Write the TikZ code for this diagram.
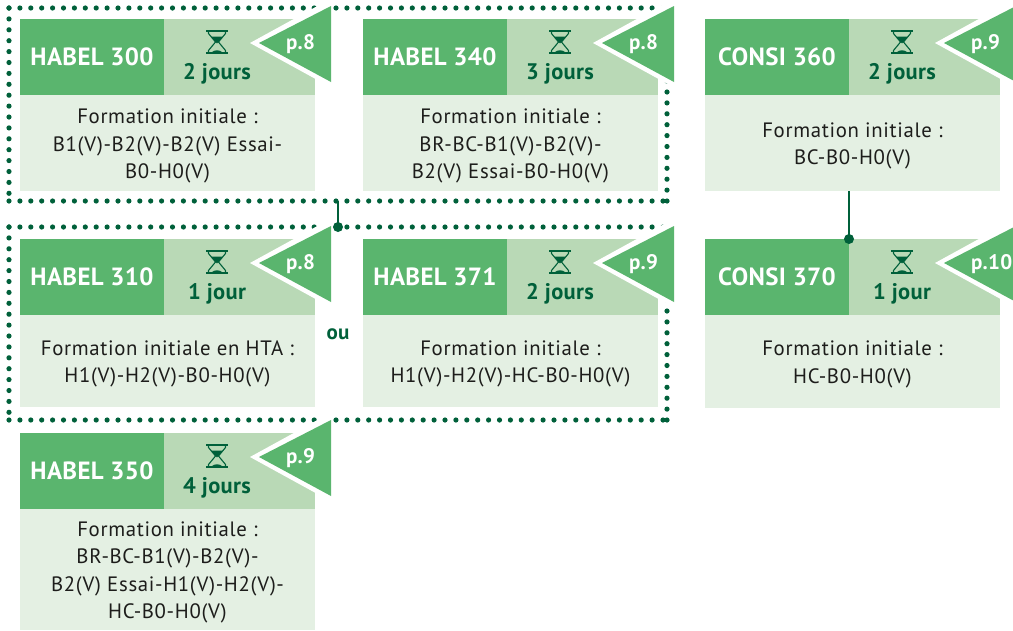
\documentclass[tikz,border=0pt]{standalone}
\usepackage{fontspec}
\setmainfont{PT Sans}
\newfontfamily\bodyfont{PT Sans}[LetterSpace=3.2]
\newfontfamily\headfont{PT Sans}[LetterSpace=1.5]
\definecolor{gmid}{HTML}{5AB56E}
\definecolor{glight}{HTML}{B9D9B6}
\definecolor{gpale}{HTML}{E4F0E3}
\definecolor{gdark}{HTML}{00603A}
\definecolor{ink}{HTML}{1D1D1B}
\tikzset{
  titlebox/.style={anchor=north west,fill=gmid,text=white,font=\fontsize{24.9}{24}\headfont\bfseries,minimum width=144pt,minimum height=76pt,inner sep=0pt,outer sep=0pt},
  timebox/.style={anchor=north west,fill=glight,minimum width=151pt,minimum height=76pt,inner sep=0pt,outer sep=0pt},
  bodybox/.style={anchor=north west,fill=gpale,minimum width=295pt,inner sep=0pt,outer sep=0pt},
  bodytext/.style={text=ink,font=\fontsize{20.8}{27.4}\bodyfont,align=center,inner sep=0pt},
  timelabel/.style={text=gdark,font=\fontsize{22.5}{22}\headfont\bfseries,inner sep=0pt},
  pagelabel/.style={anchor=west,text=white,font=\fontsize{21}{20}\headfont\bfseries,inner sep=0pt},
  dots/.style={draw=gdark,line width=5.2pt,line cap=round,dash pattern=on 0pt off 10.9pt},
  link/.style={draw=gdark,line width=2.5pt},
  linkdot/.style={fill=gdark},
}
% x, y, name, title, duration, page, body height, body text
\newcommand{\card}[8]{%
  \node[titlebox] (#3t) at (#1,#2) {#4};
  \node[timebox] (#3d) at (#1+144,#2) {};
  \node[bodybox,minimum height=#7pt] (#3b) at (#1,#2+76) {};
  \node[bodytext] (#3x) at ([yshift=-3pt]#3b.center) {#8};
  \fill[white] (#1+230,#2+24) -- (#1+312,#2-21) -- (#1+312,#2+69) -- cycle;
  \fill[gmid] (#1+239,#2+24) -- (#1+311,#2-13) -- (#1+311,#2+63) -- cycle;
  \node[pagelabel] (#3p) at (#1+266,#2+25) {#6};
  \node[timelabel] (#3j) at (#1+197,#2+55) {#5};
  \begin{scope}[shift={(#1+197,#2+23)}]
    \fill[gdark] (-11,-12) rectangle (11,-10.4);
    \fill[gdark] (-11,10.4) rectangle (11,12);
    \draw[gdark,line width=1.1pt,line join=round] (-8.5,-10.5) -- (-8.5,-8.5) -- (-1.5,0) -- (-8.5,8.5) -- (-8.5,10.5) (8.5,-10.5) -- (8.5,-8.5) -- (1.5,0) -- (8.5,8.5) -- (8.5,10.5);
    \fill[gdark] (-6,-5.5) -- (6,-5.5) -- (0,1.5) -- cycle;
    \fill[gdark] (-5.5,10.5) .. controls (-3,7.5) and (3,7.5) .. (5.5,10.5) -- cycle;
  \end{scope}
}
\begin{document}
\begin{tikzpicture}[x=1pt,y=-1pt]
\useasboundingbox (0,0) rectangle (1013,630);
\coordinate (g1tl) at (9,8);
\coordinate (g1tr) at (667,8);
\coordinate (g1bl) at (9,201);
\coordinate (g1br) at (667,201);
\coordinate (g2tl) at (9,227);
\coordinate (g2tr) at (667,227);
\coordinate (g2bl) at (9,420);
\coordinate (g2br) at (667,420);
\draw[dots] (g1tl) -- (g1tr);
\draw[dots] (g1tl) -- (g1bl);
\draw[dots] (g1bl) -- (g1br);
\draw[dots] (g1br) -- (g1tr);
\draw[dots] (g2tl) -- (g2tr);
\draw[dots] (g2tl) -- (g2bl);
\draw[dots] (g2bl) -- (g2br);
\draw[dots] (g2br) -- (g2tr);
\card{20}{19}{a}{HABEL 300}{2 jours}{p.8}{96}{Formation initiale :\\B1(V)-B2(V)-B2(V) Essai-\\B0-H0(V)}
\card{363}{19}{b}{HABEL 340}{3 jours}{p.8}{96}{Formation initiale :\\BR-BC-B1(V)-B2(V)-\\B2(V) Essai-B0-H0(V)}
\card{705}{19}{c}{CONSI 360}{2 jours}{p.9}{96}{Formation initiale :\\BC-B0-H0(V)}
\card{20}{239}{d}{HABEL 310}{1 jour}{p.8}{92}{Formation initiale en HTA :\\H1(V)-H2(V)-B0-H0(V)}
\card{363}{239}{e}{HABEL 371}{2 jours}{p.9}{92}{Formation initiale :\\H1(V)-H2(V)-HC-B0-H0(V)}
\card{705}{239}{f}{CONSI 370}{1 jour}{p.10}{93}{Formation initiale :\\HC-B0-H0(V)}
\card{20}{433}{g}{HABEL 350}{4 jours}{p.9}{121}{Formation initiale :\\BR-BC-B1(V)-B2(V)-\\B2(V) Essai-H1(V)-H2(V)-\\HC-B0-H0(V)}
\node[text=gdark,font=\fontsize{21}{20}\headfont\bfseries,inner sep=0pt] (ou) at (338,334) {ou};
\coordinate (gl1) at (338,201);
\coordinate (gl2) at (338,227);
\draw[link] (gl1) -- (gl2);
\fill[linkdot] (gl2) circle (5pt);
\draw[link] (ct.east |- cb.south) -- (ft.north east);
\fill[linkdot] (ft.north east) circle (5pt);
\end{tikzpicture}
\end{document}
